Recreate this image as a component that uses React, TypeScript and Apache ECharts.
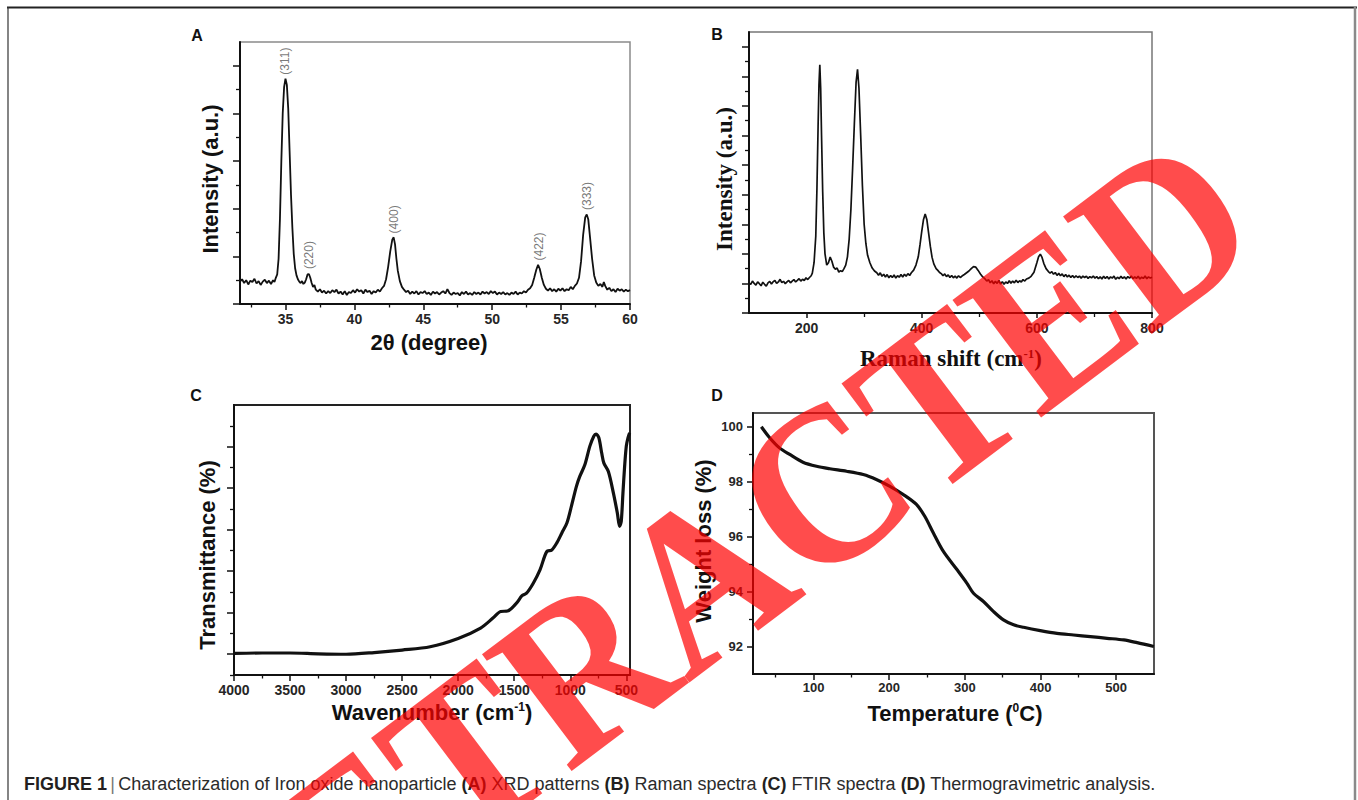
import React, { useEffect, useRef } from 'react';
import * as echarts from 'echarts';

const SANS = "'Liberation Sans', Arial, Helvetica, sans-serif";
const SERIF = "'Liberation Serif', 'Times New Roman', Times, serif";

// ---------- Panel A : XRD ----------
const xrdPattern: number[][] = [
  [31.7, 0.47], [31.85, 0.52], [32.0, 0.44], [32.15, 0.5], [32.3, 0.41], [32.45, 0.49], [32.6, 0.46],
  [32.75, 0.53], [32.9, 0.43], [33.05, 0.48], [33.2, 0.4], [33.35, 0.47], [33.5, 0.51], [33.65, 0.44],
  [33.8, 0.49], [33.95, 0.42], [34.1, 0.5], [34.2, 0.46], [34.3, 0.55], [34.4, 0.62], [34.5, 0.95],
  [34.6, 1.8], [34.7, 3.0], [34.8, 4.0], [34.9, 4.55], [35.0, 4.73], [35.1, 4.6], [35.2, 4.1],
  [35.3, 3.2], [35.4, 2.3], [35.5, 1.6], [35.6, 1.05], [35.7, 0.75], [35.8, 0.6], [35.9, 0.52],
  [36.0, 0.47], [36.1, 0.44], [36.2, 0.48], [36.3, 0.42], [36.4, 0.45], [36.5, 0.52], [36.6, 0.62],
  [36.7, 0.63], [36.8, 0.55], [36.9, 0.44], [37.0, 0.36], [37.1, 0.4], [37.2, 0.3], [37.35, 0.26],
  [37.5, 0.31], [37.65, 0.24], [37.8, 0.28], [37.95, 0.22], [38.1, 0.27], [38.25, 0.23], [38.4, 0.29],
  [38.55, 0.25], [38.7, 0.3], [38.85, 0.22], [39.0, 0.26], [39.15, 0.2], [39.3, 0.27], [39.45, 0.19],
  [39.6, 0.25], [39.75, 0.23], [39.9, 0.29], [40.05, 0.24], [40.2, 0.31], [40.35, 0.26], [40.5, 0.29],
  [40.65, 0.22], [40.8, 0.3], [40.95, 0.25], [41.1, 0.28], [41.25, 0.21], [41.4, 0.27], [41.55, 0.24],
  [41.7, 0.3], [41.85, 0.26], [42.0, 0.33], [42.15, 0.38], [42.3, 0.52], [42.45, 0.78], [42.6, 1.1],
  [42.75, 1.35], [42.85, 1.4], [42.95, 1.25], [43.05, 0.95], [43.15, 0.7], [43.3, 0.48], [43.45, 0.36],
  [43.6, 0.3], [43.75, 0.25], [43.9, 0.28], [44.05, 0.21], [44.2, 0.26], [44.35, 0.22], [44.5, 0.27],
  [44.65, 0.2], [44.8, 0.25], [44.95, 0.23], [45.1, 0.27], [45.25, 0.21], [45.4, 0.24], [45.55, 0.19],
  [45.7, 0.26], [45.85, 0.22], [46.0, 0.25], [46.15, 0.2], [46.3, 0.24], [46.45, 0.27], [46.6, 0.22],
  [46.75, 0.31], [46.9, 0.23], [47.05, 0.19], [47.2, 0.24], [47.35, 0.21], [47.5, 0.23], [47.65, 0.18],
  [47.8, 0.25], [47.95, 0.21], [48.1, 0.26], [48.25, 0.2], [48.4, 0.23], [48.55, 0.19], [48.7, 0.25],
  [48.85, 0.21], [49.0, 0.24], [49.15, 0.2], [49.3, 0.26], [49.45, 0.22], [49.6, 0.25], [49.75, 0.21],
  [49.9, 0.27], [50.05, 0.23], [50.2, 0.26], [50.35, 0.2], [50.5, 0.24], [50.65, 0.21], [50.8, 0.25],
  [50.95, 0.2], [51.1, 0.23], [51.25, 0.19], [51.4, 0.24], [51.55, 0.21], [51.7, 0.26], [51.85, 0.2],
  [52.0, 0.24], [52.15, 0.22], [52.3, 0.27], [52.45, 0.24], [52.6, 0.3], [52.75, 0.33], [52.9, 0.4],
  [53.05, 0.55], [53.2, 0.72], [53.33, 0.82], [53.45, 0.74], [53.6, 0.55], [53.75, 0.4], [53.9, 0.32],
  [54.05, 0.28], [54.2, 0.33], [54.35, 0.27], [54.5, 0.31], [54.65, 0.26], [54.8, 0.32], [54.95, 0.28],
  [55.1, 0.33], [55.25, 0.27], [55.4, 0.31], [55.55, 0.29], [55.7, 0.36], [55.85, 0.31], [56.0, 0.38],
  [56.15, 0.43], [56.3, 0.55], [56.45, 0.9], [56.6, 1.45], [56.75, 1.82], [56.86, 1.88], [56.97, 1.78],
  [57.1, 1.4], [57.25, 0.95], [57.4, 0.6], [57.55, 0.45], [57.7, 0.38], [57.85, 0.42], [58.0, 0.36],
  [58.1, 0.46], [58.2, 0.38], [58.35, 0.3], [58.5, 0.34], [58.65, 0.27], [58.8, 0.31], [58.95, 0.25],
  [59.1, 0.32], [59.25, 0.28], [59.4, 0.31], [59.55, 0.26], [59.7, 0.3], [59.85, 0.27], [60.0, 0.29],
];
const xrdPeakNames = ['(311)', '(220)', '(400)', '(422)', '(333)'];
const xrdPeakTheta = [35.0, 36.72, 42.85, 53.38, 56.9];
const xrdPeakTop = [4.76, 0.68, 1.43, 0.86, 1.92];
const xrdXMajor = [35, 40, 45, 50, 55, 60];
const xrdXMinor = [32.5, 37.5, 42.5, 47.5, 52.5, 57.5];
const xrdYMajor = [0, 1, 2, 3, 4, 5];
const xrdYMinor = [0.5, 1.5, 2.5, 3.5, 4.5];

// ---------- Panel B : Raman ----------
const ramanSpectrum: number[][] = [
  [100, 1.02], [103, 0.97], [106, 1.08], [109, 1.0], [112, 0.94], [115, 1.05], [118, 0.99], [121, 0.92],
  [124, 1.04], [127, 0.97], [130, 0.91], [133, 1.02], [136, 1.07], [139, 0.98], [142, 1.06], [145, 1.1],
  [148, 1.0], [151, 1.05], [154, 1.14], [157, 1.03], [160, 1.07], [163, 0.99], [166, 1.05], [169, 1.1],
  [172, 1.02], [175, 1.08], [178, 1.13], [181, 1.05], [184, 1.1], [187, 1.16], [190, 1.08], [193, 1.14],
  [196, 1.1], [199, 1.19], [202, 1.13], [205, 1.2], [208, 1.26], [210, 1.35],
  [213, 1.7], [216, 2.6], [218, 4.2], [220, 6.3], [221.5, 7.7], [223, 8.39], [224.5, 7.6], [226, 6.0],
  [228, 4.1], [230, 2.7], [232, 2.0], [235, 1.62], [238, 1.7], [241, 1.89], [244, 1.75], [247, 1.55],
  [250, 1.48], [253, 1.52], [256, 1.38], [259, 1.43], [262, 1.4], [265, 1.5], [268, 1.62], [271, 1.9],
  [274, 2.5], [277, 3.5], [280, 4.9], [283, 6.4], [286, 7.8], [288.5, 8.24], [291, 7.6], [294, 6.0],
  [297, 4.3], [300, 3.0], [303, 2.35], [306, 1.95], [310, 1.7], [314, 1.52], [318, 1.42], [322, 1.36],
  [325, 1.28], [328, 1.36], [331, 1.24], [334, 1.31], [337, 1.22], [340, 1.3], [343, 1.19], [346, 1.27],
  [349, 1.2], [352, 1.29], [355, 1.18], [358, 1.26], [361, 1.21], [364, 1.3], [367, 1.22], [370, 1.31],
  [373, 1.24], [376, 1.33], [379, 1.27], [382, 1.36], [386, 1.45],
  [390, 1.62], [394, 1.9], [397, 2.3], [400, 2.75], [403, 3.15], [406, 3.35], [409, 3.15], [412, 2.7],
  [415, 2.25], [418, 1.88], [421, 1.66], [425, 1.5], [428, 1.44], [431, 1.37], [434, 1.33], [437, 1.26],
  [440, 1.32], [443, 1.23], [446, 1.29], [449, 1.2], [452, 1.27], [455, 1.19], [458, 1.25], [461, 1.18],
  [464, 1.26], [467, 1.2], [470, 1.25], [474, 1.3], [478, 1.36], [482, 1.42], [486, 1.5],
  [490, 1.57], [494, 1.55], [498, 1.44], [502, 1.32], [506, 1.22], [510, 1.15], [513, 1.08], [516, 1.13],
  [519, 1.02], [522, 1.09], [525, 0.99], [528, 1.07], [531, 1.0], [534, 1.1], [537, 0.98], [540, 1.06],
  [543, 0.97], [546, 1.05], [549, 1.0], [552, 1.09], [555, 1.01], [558, 1.08], [561, 1.02], [564, 1.11],
  [567, 1.03], [570, 1.09], [573, 1.05], [576, 1.13], [579, 1.08], [582, 1.15], [586, 1.18], [590, 1.24],
  [595, 1.38], [600, 1.7], [603, 1.9], [606, 1.99], [609, 1.88], [612, 1.68], [616, 1.5], [620, 1.4],
  [623, 1.35], [626, 1.4], [629, 1.31], [632, 1.37], [635, 1.27], [638, 1.34], [641, 1.26], [644, 1.32],
  [647, 1.23], [650, 1.3], [653, 1.22], [656, 1.28], [659, 1.2], [662, 1.27], [665, 1.19], [668, 1.26],
  [671, 1.2], [674, 1.25], [677, 1.18], [680, 1.25], [683, 1.2], [686, 1.24], [689, 1.17], [692, 1.23],
  [695, 1.19], [698, 1.25], [701, 1.18], [704, 1.23], [707, 1.16], [710, 1.22], [713, 1.15], [716, 1.24],
  [719, 1.17], [722, 1.23], [725, 1.15], [728, 1.22], [731, 1.18], [734, 1.25], [737, 1.14], [740, 1.21],
  [743, 1.16], [746, 1.24], [749, 1.17], [752, 1.22], [755, 1.15], [758, 1.23], [761, 1.18], [764, 1.25],
  [767, 1.16], [770, 1.22], [773, 1.17], [776, 1.24], [779, 1.15], [782, 1.21], [785, 1.17], [788, 1.25],
  [791, 1.16], [794, 1.22], [797, 1.18], [800, 1.21],
];
const ramanXMajor = [200, 400, 600, 800];
const ramanXMinor = [300, 500, 700];
const ramanYMajor = [0, 1, 2, 3, 4, 5, 6, 7, 8, 9];
const ramanYMinor = [0.5, 1.5, 2.5, 3.5, 4.5, 5.5, 6.5, 7.5, 8.5];

// ---------- Panel C : FTIR ----------
const ftirSpectrum: number[][] = [
  [4000, 0.02], [3750, 0.03], [3500, 0.03], [3250, 0.01], [3000, 0.0], [2750, 0.04], [2500, 0.1],
  [2250, 0.18], [2000, 0.38], [1800, 0.63], [1690, 0.87], [1620, 1.03], [1560, 1.04], [1480, 1.23],
  [1430, 1.41], [1390, 1.47], [1330, 1.71], [1270, 2.03], [1210, 2.47], [1165, 2.51], [1120, 2.68],
  [1075, 2.92], [1030, 3.16], [990, 3.56], [945, 4.04], [915, 4.28], [870, 4.56], [825, 5.01],
  [790, 5.25], [770, 5.3], [745, 5.21], [720, 4.85], [700, 4.6], [660, 4.4], [615, 3.88], [580, 3.4],
  [560, 3.08], [545, 3.2], [530, 3.88], [515, 4.52], [500, 5.01], [485, 5.21], [470, 5.33],
];
const ftirXMajor = [500, 1000, 1500, 2000, 2500, 3000, 3500, 4000];
const ftirXMinor = [750, 1250, 1750, 2250, 2750, 3250, 3750];
const ftirYMajor = [0, 1, 2, 3, 4, 5];
const ftirYMinor = [-0.5, 0.5, 1.5, 2.5, 3.5, 4.5, 5.5];

// ---------- Panel D : TGA ----------
const tgaCurve: number[][] = [
  [31, 100.0], [42, 99.6], [55, 99.23], [68.6, 98.99], [86, 98.71], [104, 98.56], [121.5, 98.47],
  [143.6, 98.38], [165.7, 98.26], [183, 98.08], [201, 97.83], [218.7, 97.53], [236, 97.17],
  [247, 96.74], [258.4, 96.13], [271.6, 95.46], [289, 94.82], [302.6, 94.31], [311.4, 93.94],
  [324.6, 93.64], [338, 93.27], [351, 92.97], [364.4, 92.79], [377.6, 92.7], [399.7, 92.58],
  [421.8, 92.48], [443.8, 92.42], [465.9, 92.36], [488, 92.3], [510, 92.24], [527.7, 92.14], [549.8, 92.0],
];
const tgaXMajor = [100, 200, 300, 400, 500];
const tgaXMinor = [50, 150, 250, 350, 450];
const tgaYMajor = [92, 94, 96, 98, 100];
const tgaYMinor = [93, 95, 97, 99];

const captionText =
  '{b|FIGURE 1} {g||} {n|Characterization of Iron oxide nanoparticle }{b|(A)}{n| XRD patterns }{b|(B)}{n| Raman spectra }{b|(C)}{n| FTIR spectra }{b|(D)}{n| Thermogravimetric analysis.}';

function axisPair(dim: 'x' | 'y', gridIndex: number, c: any) {
  const position = dim === 'x' ? 'bottom' : 'left';
  const main = {
    type: 'value', gridIndex, min: c.min, max: c.max, inverse: !!c.inverse, position,
    axisLine: { show: true, onZero: false, lineStyle: { color: '#111', width: 2 } },
    axisTick: { show: true, inside: false, length: c.majorLen ?? 6, lineStyle: { color: '#111', width: 1.5 }, customValues: c.majors },
    axisLabel: c.labels
      ? { show: true, customValues: c.labels, margin: c.margin, color: '#262626', fontSize: c.fontSize, fontWeight: 'bold', fontFamily: SANS, formatter: (v: number) => String(v) }
      : { show: false },
    splitLine: { show: false },
    minorTick: { show: false },
  };
  const minor = {
    type: 'value', gridIndex, min: c.min, max: c.max, inverse: !!c.inverse, position,
    axisLine: { show: false, onZero: false },
    axisTick: { show: true, inside: false, length: c.minorLen ?? 3.5, lineStyle: { color: '#111', width: 1.3 }, customValues: c.minors },
    axisLabel: { show: false },
    splitLine: { show: false },
  };
  return [main, minor];
}

function txt(x: number, y: number, text: string, font: string, extra: any = {}) {
  return {
    type: 'text', x, y, rotation: extra.rotation || 0, z: 50,
    style: { text, font, fill: extra.fill || '#111', align: extra.align || 'center', verticalAlign: 'middle', rich: extra.rich },
  };
}

function buildOption() {
  const grids = [
    { left: 240, top: 42, width: 390, height: 262, show: true, borderColor: '#8a8a8a', borderWidth: 1.5, outerBoundsMode: 'none', containLabel: false },
    { left: 749, top: 32, width: 403, height: 281, show: true, borderColor: '#777', borderWidth: 1.5, outerBoundsMode: 'none', containLabel: false },
    { left: 234, top: 405, width: 396, height: 270, show: true, borderColor: '#222', borderWidth: 2, outerBoundsMode: 'none', containLabel: false },
    { left: 753, top: 413, width: 401, height: 261, show: true, borderColor: '#555', borderWidth: 2, outerBoundsMode: 'none', containLabel: false },
  ];
  const xAxis = [
    ...axisPair('x', 0, { min: 31.7, max: 60, majors: xrdXMajor, minors: xrdXMinor, labels: xrdXMajor, margin: 8, fontSize: 14 }),
    ...axisPair('x', 1, { min: 100, max: 800, majors: ramanXMajor, minors: ramanXMinor, labels: ramanXMajor, margin: 8, fontSize: 14, majorLen: 5, minorLen: 4 }),
    ...axisPair('x', 2, { min: 467, max: 4000, inverse: true, majors: ftirXMajor, minors: ftirXMinor, labels: ftirXMajor, margin: 8, fontSize: 14 }),
    ...axisPair('x', 3, { min: 20, max: 550, majors: tgaXMajor, minors: tgaXMinor, labels: tgaXMajor, margin: 7, fontSize: 13 }),
  ];
  const yAxis = [
    ...axisPair('y', 0, { min: 0, max: 5.5, majors: xrdYMajor, minors: xrdYMinor, majorLen: 7, minorLen: 4 }),
    ...axisPair('y', 1, { min: 0, max: 9.5, majors: ramanYMajor, minors: ramanYMinor, majorLen: 7, minorLen: 4 }),
    ...axisPair('y', 2, { min: -0.5, max: 6.0, majors: ftirYMajor, minors: ftirYMinor, majorLen: 7, minorLen: 4 }),
    ...axisPair('y', 3, { min: 91, max: 100.5, majors: tgaYMajor, minors: tgaYMinor, labels: tgaYMajor, margin: 10, fontSize: 13, majorLen: 6, minorLen: 4 }),
  ];
  const peakData = xrdPeakNames.map((n, i) => [xrdPeakTheta[i], xrdPeakTop[i], n]);
  const series: any[] = [
    { type: 'line', xAxisIndex: 0, yAxisIndex: 0, data: xrdPattern, showSymbol: false, symbol: 'none', lineStyle: { color: '#111', width: 1.8 }, z: 3 },
    {
      type: 'scatter', xAxisIndex: 0, yAxisIndex: 0, data: peakData, symbolSize: 1, itemStyle: { color: 'rgba(0,0,0,0)' }, z: 4,
      label: { show: true, position: 'top', distance: 2, rotate: 90, align: 'left', verticalAlign: 'middle', color: '#555', fontSize: 12, fontFamily: SANS, formatter: (p: any) => p.value[2] },
    },
    { type: 'line', xAxisIndex: 2, yAxisIndex: 2, data: ramanSpectrum, showSymbol: false, symbol: 'none', lineStyle: { color: '#111', width: 1.7 }, z: 3 },
    { type: 'line', xAxisIndex: 4, yAxisIndex: 4, data: ftirSpectrum, showSymbol: false, symbol: 'none', smooth: 0.3, lineStyle: { color: '#111', width: 3.2 }, z: 3 },
    { type: 'line', xAxisIndex: 6, yAxisIndex: 6, data: tgaCurve, showSymbol: false, symbol: 'none', smooth: 0.3, lineStyle: { color: '#111', width: 3.2 }, z: 3 },
  ];

  const sansTitle = `bold 22px ${SANS}`;
  const serifTitle = `bold 23px ${SERIF}`;
  const graphic: any[] = [
    { type: 'line', shape: { x1: 7, y1: 7.5, x2: 1357, y2: 7.5 }, style: { stroke: '#222', lineWidth: 2 } },
    { type: 'line', shape: { x1: 8, y1: 7, x2: 8, y2: 800 }, style: { stroke: '#333', lineWidth: 1.2 } },
    { type: 'line', shape: { x1: 1355, y1: 7, x2: 1355, y2: 800 }, style: { stroke: '#8a8a8a', lineWidth: 2.5 } },
    txt(197, 35, 'A', `bold 16px ${SANS}`),
    txt(717, 34, 'B', `bold 16px ${SANS}`),
    txt(196, 395, 'C', `bold 16px ${SANS}`),
    txt(717, 395, 'D', `bold 16px ${SANS}`),
    txt(429, 342, '2θ (degree)', sansTitle),
    txt(210, 179, 'Intensity (a.u.)', sansTitle, { rotation: Math.PI / 2 }),
    txt(951, 358, '{t|Raman shift (cm}{s|-1}{t|)}', serifTitle, {
      rich: { t: { font: serifTitle, verticalAlign: 'bottom' }, s: { font: `bold 13px ${SERIF}`, verticalAlign: 'top' } },
    }),
    txt(724, 179, 'Intensity (a.u.)', serifTitle, { rotation: Math.PI / 2 }),
    txt(432, 712, '{t|Wavenumber (cm}{s|-1}{t|)}', sansTitle, {
      rich: { t: { font: sansTitle, verticalAlign: 'bottom' }, s: { font: `bold 12px ${SANS}`, verticalAlign: 'top' } },
    }),
    txt(207, 555, 'Transmittance (%)', sansTitle, { rotation: Math.PI / 2 }),
    txt(955, 713, '{t|Temperature (}{s|0}{t|C)}', sansTitle, {
      rich: { t: { font: sansTitle, verticalAlign: 'bottom' }, s: { font: `bold 12px ${SANS}`, verticalAlign: 'top' } },
    }),
    txt(703, 541, 'Weight loss (%)', sansTitle, { rotation: Math.PI / 2 }),
    {
      type: 'text', x: 24, y: 784, z: 50,
      style: {
        text: captionText, align: 'left', verticalAlign: 'middle', fill: '#231f20',
        rich: {
          b: { font: `bold 18px ${SANS}`, fill: '#231f20' },
          n: { font: `18px ${SANS}`, fill: '#2b2b2b' },
          g: { font: `18px ${SANS}`, fill: '#777' },
        },
      },
    },
    {
      type: 'text', x: 702, y: 578, rotation: (37 * Math.PI) / 180, scaleX: 0.98, scaleY: 1.06, z: 200,
      style: { text: 'RETRACTED', font: `bold 212px ${SERIF}`, fill: 'rgba(255,0,0,0.7)', align: 'center', verticalAlign: 'middle' },
    },
  ];

  return { animation: false, backgroundColor: '#fff', grid: grids, xAxis, yAxis, series, graphic };
}

export default function App() {
  const ref = useRef<HTMLDivElement>(null);
  useEffect(() => {
    const chart = echarts.init(ref.current as HTMLDivElement, undefined, { renderer: 'svg' });
    chart.setOption(buildOption() as any);
    return () => chart.dispose();
  }, []);
  return <div ref={ref} style={{ position: 'fixed', left: 0, top: 0, width: 1358, height: 800, background: '#fff' }} />;
}
